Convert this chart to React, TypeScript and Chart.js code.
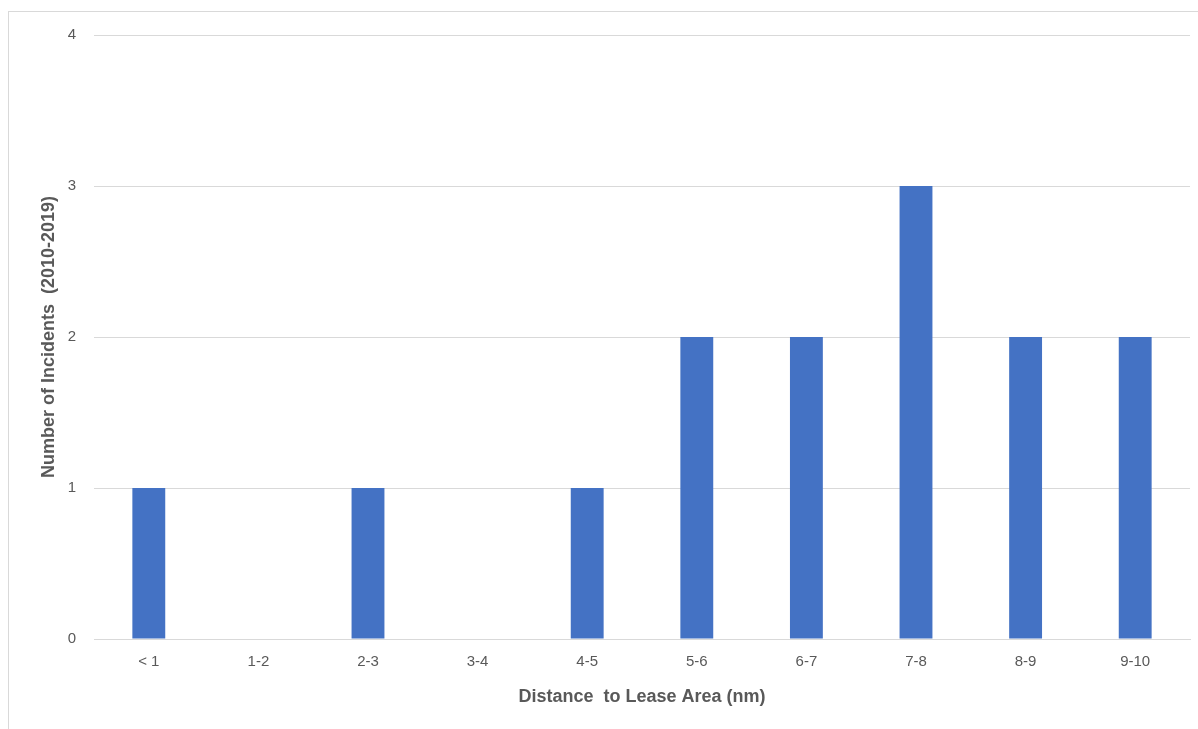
import React, { useEffect, useRef } from "react";
import { Chart, registerables } from "chart.js";

Chart.register(...registerables);

const categories = ["< 1", "1-2", "2-3", "3-4", "4-5", "5-6", "6-7", "7-8", "8-9", "9-10"];
const incidents = [1, 0, 1, 0, 1, 2, 2, 3, 2, 2];
const yTicks = [0, 1, 2, 3, 4];
const xTitle = "Distance  to Lease Area (nm)";
const yTitle = "Number of Incidents  (2010-2019)";

export default function App() {
  const ref = useRef<HTMLCanvasElement | null>(null);
  useEffect(() => {
    if (!ref.current) return;
    const font = "'Liberation Sans', 'Open Sans', sans-serif";
    const chart = new Chart(ref.current, {
      type: "bar",
      data: {
        labels: categories,
        datasets: [
          {
            data: incidents,
            backgroundColor: "#4472c4",
            borderWidth: 0,
            barPercentage: 1,
            categoryPercentage: 0.3,
          },
        ],
      },
      options: {
        responsive: false,
        animation: false,
        layout: { padding: { left: 38, right: 8, top: 35, bottom: 21 } },
        plugins: { legend: { display: false }, tooltip: { enabled: false } },
        scales: {
          x: {
            grid: { display: false, drawTicks: false },
            border: { color: "#d9d9d9", width: 1 },
            ticks: { color: "#595959", font: { family: font, size: 15 }, padding: 14 },
            title: {
              display: true,
              text: xTitle,
              color: "#595959",
              font: { family: font, size: 18, weight: "bold" },
              padding: 0,
            },
            afterFit: (s: any) => {
              s.height = 69;
            },
          },
          y: {
            min: 0,
            max: 4,
            afterBuildTicks: (s: any) => {
              s.ticks = yTicks.map((v) => ({ value: v }));
            },
            grid: { color: "#d9d9d9", drawTicks: false },
            border: { display: false },
            ticks: { color: "#595959", font: { family: font, size: 15 }, padding: 18, stepSize: 1 },
            title: {
              display: true,
              text: yTitle,
              color: "#595959",
              font: { family: font, size: 18, weight: "bold" },
              padding: 0,
            },
            afterFit: (s: any) => {
              s.width = 56;
            },
          },
        },
      },
    });
    return () => chart.destroy();
  }, []);
  return (
    <div>
      <div
        style={{
          position: "fixed",
          left: 8,
          top: 11,
          width: 1400,
          height: 900,
          border: "1px solid #d9d9d9",
          boxSizing: "border-box",
        }}
      />
      <canvas
        ref={ref}
        width={1198}
        height={729}
        style={{ position: "fixed", left: 0, top: 0, width: 1198, height: 729 }}
      />
    </div>
  );
}
